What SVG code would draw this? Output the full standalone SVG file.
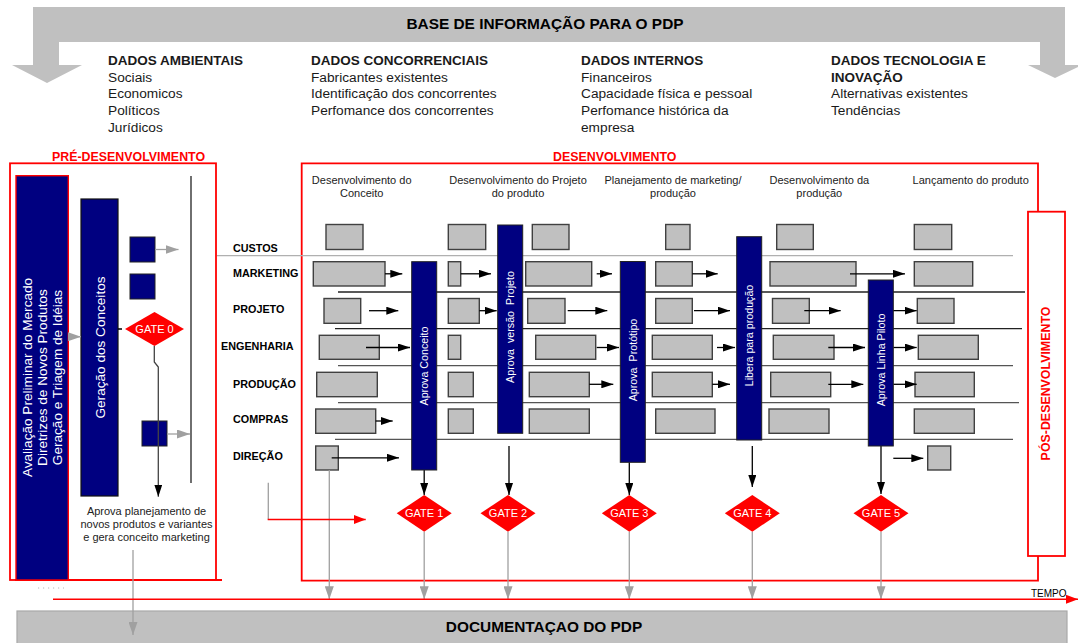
<svg xmlns="http://www.w3.org/2000/svg" width="1078" height="643" viewBox="0 0 1078 643">
  <defs>
    <style>
      text { font-family: "Liberation Sans", Arial, sans-serif; }
      .t14 { font-size: 13.7px; fill: #1a1a1a; }
      .b14 { font-size: 13.5px; font-weight: bold; fill: #1a1a1a; }
      .ttl { font-size: 15.4px; font-weight: bold; fill: #000; }
      .red { font-size: 12.4px; font-weight: bold; fill: #ff0000; }
      .ph { font-size: 11px; fill: #222; text-anchor: middle; }
      .lane { font-size: 10.8px; font-weight: bold; fill: #000; }
      .wt { fill: #fff; text-anchor: middle; }
      .gb { fill: #c0c0c0; stroke: #404040; stroke-width: 1.4; }
      .nv { fill: #000080; stroke: #222; stroke-width: 1; }
      .gate { fill: #ff0000; }
      .gt { font-size: 11px; fill: #fff; text-anchor: middle; }
      .bt { font-size: 10.7px; fill: #fff; text-anchor: middle; }
      .rbox { fill: none; stroke: #ff0000; stroke-width: 1.8; }
      .ab { stroke: #000; stroke-width: 1.3; fill: none; marker-end: url(#aB); }
      .ag { stroke: #a0a0a0; stroke-width: 1.3; fill: none; marker-end: url(#aG); }
      .lane-line { stroke: #222; stroke-width: 1.3; }
      .lane-line2 { stroke: #555; stroke-width: 1.3; }
    </style>
    <marker id="aB" viewBox="0 0 12 8" refX="12" refY="4" markerWidth="12" markerHeight="8" markerUnits="userSpaceOnUse" orient="auto">
      <path d="M0,0 L12,4 L0,8 z" fill="#000"/>
    </marker>
    <marker id="aG" viewBox="0 0 13 9" refX="13" refY="4.5" markerWidth="13" markerHeight="9" markerUnits="userSpaceOnUse" orient="auto">
      <path d="M0,0 L13,4.5 L0,9 z" fill="#a0a0a0"/>
    </marker>
    <marker id="aR" viewBox="0 0 12 9" refX="12" refY="4.5" markerWidth="12" markerHeight="9" markerUnits="userSpaceOnUse" orient="auto">
      <path d="M0,0 L12,4.5 L0,9 z" fill="#ff0000"/>
    </marker>
  </defs>

  <rect width="1078" height="643" fill="#fff"/>

  <!-- information base: wide bent arrow across the top -->
  <g id="base-info">
    <path d="M33,7 H1065 V65 H1082 L1055,78 L1028,65 H1040 V42 H59 V65 H82 L47,83 L12,65 H33 Z" fill="#c0c0c0"/>
    <text class="ttl" x="545" y="29" text-anchor="middle">BASE DE INFORMAÇÃO PARA O PDP</text>
  </g>

  <g id="dados-ambientais">
    <text class="b14" x="108" y="65">DADOS AMBIENTAIS</text>
    <text class="t14" x="108" y="81.7">Sociais</text>
    <text class="t14" x="108" y="98.3">Economicos</text>
    <text class="t14" x="108" y="115">Políticos</text>
    <text class="t14" x="108" y="131.7">Jurídicos</text>
  </g>
  <g id="dados-concorrenciais">
    <text class="b14" x="311" y="65">DADOS CONCORRENCIAIS</text>
    <text class="t14" x="311" y="81.7">Fabricantes existentes</text>
    <text class="t14" x="311" y="98.3">Identificação dos concorrentes</text>
    <text class="t14" x="311" y="115">Perfomance dos concorrentes</text>
  </g>
  <g id="dados-internos">
    <text class="b14" x="581" y="65">DADOS INTERNOS</text>
    <text class="t14" x="581" y="81.7">Financeiros</text>
    <text class="t14" x="581" y="98.3">Capacidade física e pessoal</text>
    <text class="t14" x="581" y="115">Perfomance histórica da</text>
    <text class="t14" x="581" y="131.7">empresa</text>
  </g>
  <g id="dados-tecnologia">
    <text class="b14" x="831" y="65">DADOS TECNOLOGIA E</text>
    <text class="b14" x="831" y="81.7">INOVAÇÃO</text>
    <text class="t14" x="831" y="98.3">Alternativas existentes</text>
    <text class="t14" x="831" y="115">Tendências</text>
  </g>

  <!-- documentation band at the bottom -->
  <g id="documentacao">
    <rect x="17" y="611" width="1050" height="40" fill="#c0c0c0" stroke="#a8a8a8" stroke-width="1.2"/>
    <text class="ttl" x="544" y="632" text-anchor="middle">DOCUMENTAÇAO DO PDP</text>
  </g>

  <!-- pre-development frame -->
  <g id="pre-desenvolvimento">
    <text class="red" x="52" y="161">PRÉ-DESENVOLVIMENTO</text>
    <rect class="rbox" x="10" y="163.3" width="206" height="416.7"/>
    <line x1="15" y1="580" x2="222" y2="580" stroke="#ff0000" stroke-width="1.8"/>
    <line x1="191" y1="176" x2="191" y2="483" stroke="#333" stroke-width="1.4"/>
  </g>

  <g id="avaliacao-preliminar">
    <rect x="16" y="175.7" width="52.3" height="404.3" fill="#000080" stroke="#ff0000" stroke-width="1.4"/>
    <g transform="translate(0,377.5) rotate(-90)" font-size="13.6">
      <text class="wt" x="0" y="32">Avaliação Preliminar do Mercado</text>
      <text class="wt" x="0" y="47">Diretrizes de Novos Produtos</text>
      <text class="wt" x="0" y="62">Geração e Triagem de Idéias</text>
    </g>
  </g>

  <g id="geracao-conceitos">
    <rect x="81" y="199" width="37" height="297" fill="#000080" stroke="#111" stroke-width="1.2"/>
    <text class="wt" font-size="13.6" transform="translate(105,347.5) rotate(-90)">Geração dos Conceitos</text>
  </g>

  <g id="conceito-a"><rect x="130" y="237" width="25" height="25" class="nv"/></g>
  <g id="conceito-b"><rect x="130" y="274" width="25" height="25" class="nv"/></g>

  <g id="gate-0">
    <polygon class="gate" points="154.5,312 184,329 154.5,346 125,329"/>
    <text class="gt" font-size="12" x="154.5" y="333.3">GATE 0</text>
  </g>

  <g id="conceito-aprovado"><rect x="142" y="421" width="25" height="25" class="nv"/></g>

  <g id="nota-aprovacao">
    <text class="ph" x="146.5" y="514.5">Aprova planejamento de</text>
    <text class="ph" x="146.5" y="527.8">novos produtos e variantes</text>
    <text class="ph" x="146.5" y="541">e gera conceito marketing</text>
  </g>

  <!-- development frame and post-development box -->
  <g id="desenvolvimento">
    <text class="red" x="553" y="161">DESENVOLVIMENTO</text>
    <path class="rbox" d="M1038,211.7 V163.3 H301.7 V580.7 H1038 V556"/>
  </g>

  <g id="pos-desenvolvimento">
    <rect x="1028" y="211.7" width="37" height="344.3" fill="#fff" stroke="#ff0000" stroke-width="1.8"/>
    <text class="red" text-anchor="middle" transform="translate(1050,383.5) rotate(-90)">PÓS-DESENVOLVIMENTO</text>
  </g>

  <!-- phase headings -->
  <g id="fases">
    <text class="ph" x="361.7" y="184">Desenvolvimento do</text>
    <text class="ph" x="361.7" y="197.3">Conceito</text>
    <text class="ph" x="518" y="184">Desenvolvimento do Projeto</text>
    <text class="ph" x="518" y="197.3">do produto</text>
    <text class="ph" x="673" y="184">Planejamento de marketing/</text>
    <text class="ph" x="673" y="197.3">produção</text>
    <text class="ph" x="819.3" y="184">Desenvolvimento da</text>
    <text class="ph" x="819.3" y="197.3">produção</text>
    <text class="ph" x="970.7" y="184">Lançamento do produto</text>
  </g>

  <!-- swimlanes -->
  <g id="raias">
    <text class="lane" x="233" y="251.7">CUSTOS</text>
    <text class="lane" x="233" y="276.7">MARKETING</text>
    <text class="lane" x="233" y="313">PROJETO</text>
    <text class="lane" x="221" y="350">ENGENHARIA</text>
    <text class="lane" x="233" y="387.7">PRODUÇÃO</text>
    <text class="lane" x="233" y="423">COMPRAS</text>
    <text class="lane" x="233" y="460">DIREÇÃO</text>
    <line x1="217" y1="255.7" x2="1013" y2="255.7" stroke="#b0b0b0" stroke-width="1.3"/>
    <line class="lane-line" x1="338" y1="292" x2="1025" y2="292"/>
    <line class="lane-line" x1="335" y1="328.7" x2="1022" y2="328.7"/>
    <line class="lane-line2" x1="338" y1="365.7" x2="1013" y2="365.7"/>
    <line class="lane-line2" x1="338" y1="402.7" x2="1019" y2="402.7"/>
    <line class="lane-line2" x1="335" y1="439.3" x2="1013" y2="439.3"/>
  </g>

  <!-- lane activities -->
  <g id="custos">
    <rect class="gb" x="326" y="224.5" width="37" height="25"/>
    <rect class="gb" x="448.3" y="224.5" width="37.4" height="25"/>
    <rect class="gb" x="532.3" y="224.5" width="36.7" height="25"/>
    <rect class="gb" x="665.7" y="224.5" width="24.3" height="25"/>
    <rect class="gb" x="776.7" y="224.5" width="36.6" height="25"/>
    <rect class="gb" x="914.3" y="224.5" width="37.4" height="25"/>
  </g>
  <g id="marketing">
    <rect class="gb" x="313.3" y="261.7" width="71.7" height="24.3"/>
    <rect class="gb" x="448.3" y="261.7" width="12.4" height="24.3"/>
    <rect class="gb" x="525.7" y="261.7" width="66" height="24.3"/>
    <rect class="gb" x="655.7" y="261.7" width="36.6" height="24.3"/>
    <rect class="gb" x="770" y="261.7" width="86" height="24.3"/>
    <rect class="gb" x="914.3" y="261.7" width="58.4" height="24.3"/>
  </g>
  <g id="projeto">
    <rect class="gb" x="324" y="298.5" width="36.7" height="24.8"/>
    <rect class="gb" x="448.3" y="298.5" width="31" height="24.8"/>
    <rect class="gb" x="527.7" y="298.5" width="37.3" height="24.8"/>
    <rect class="gb" x="655.7" y="298.5" width="36.6" height="24.8"/>
    <rect class="gb" x="772.5" y="298.5" width="36.8" height="24.8"/>
    <rect class="gb" x="917.3" y="298.5" width="36.7" height="24.8"/>
  </g>
  <g id="engenharia">
    <rect class="gb" x="319.3" y="335.3" width="60" height="24"/>
    <rect class="gb" x="448.3" y="335.3" width="12.4" height="24"/>
    <rect class="gb" x="535.7" y="335.3" width="60" height="24"/>
    <rect class="gb" x="652.3" y="335.3" width="60" height="24"/>
    <rect class="gb" x="773.3" y="335.3" width="60.7" height="24"/>
    <rect class="gb" x="918.3" y="335.3" width="60" height="24"/>
  </g>
  <g id="producao">
    <rect class="gb" x="316.7" y="372.3" width="60.6" height="24.4"/>
    <rect class="gb" x="448.3" y="372.3" width="25" height="24.4"/>
    <rect class="gb" x="529.3" y="372.3" width="60" height="24.4"/>
    <rect class="gb" x="652.3" y="372.3" width="60" height="24.4"/>
    <rect class="gb" x="770.7" y="372.3" width="60" height="24.4"/>
    <rect class="gb" x="915" y="372.3" width="59.3" height="24.4"/>
  </g>
  <g id="compras">
    <rect class="gb" x="315.7" y="409" width="60" height="24.3"/>
    <rect class="gb" x="448.3" y="409" width="25" height="24.3"/>
    <rect class="gb" x="529.3" y="409" width="60" height="24.3"/>
    <rect class="gb" x="655.7" y="409" width="59.3" height="24.3"/>
    <rect class="gb" x="769" y="409" width="60" height="24.3"/>
    <rect class="gb" x="914.3" y="409" width="60" height="24.3"/>
  </g>
  <g id="direcao">
    <rect class="gb" x="315.7" y="446" width="22.6" height="24"/>
    <rect class="gb" x="927.7" y="446" width="23" height="24"/>
  </g>

  <!-- connectors -->
  <g id="conectores">
    <!-- pre-development -->
    <line class="ag" x1="68.5" y1="336.7" x2="81" y2="336.7"/>
    <line class="ag" x1="155" y1="249.5" x2="178.5" y2="249.5"/>
    <line x1="118" y1="329" x2="122" y2="329" stroke="#000" stroke-width="1.5"/>
    <path d="M154.3,346 V362 L158.3,367 V496.7" stroke="#444" stroke-width="1.3" fill="none" marker-end="url(#aB)"/>
    <line class="ag" x1="167" y1="434" x2="190" y2="434"/>
    <line class="ag" x1="133" y1="550" x2="133" y2="635"/>
    <line x1="38" y1="588" x2="64" y2="588" stroke="#b8b8b8" stroke-width="1" stroke-dasharray="1.2 3.8"/>

    <!-- marketing -->
    <line class="ab" x1="385" y1="273.8" x2="402.3" y2="273.8"/>
    <line class="ab" x1="460.7" y1="273.8" x2="491" y2="273.8"/>
    <line class="ab" x1="596.7" y1="273.8" x2="612" y2="273.8"/>
    <line class="ab" x1="692.3" y1="273.8" x2="717.7" y2="273.8"/>
    <line class="ab" x1="850" y1="273.8" x2="905" y2="273.8"/>
    <!-- projeto -->
    <line class="ab" x1="369" y1="310.7" x2="398.3" y2="310.7"/>
    <line class="ab" x1="479.3" y1="310.7" x2="496.7" y2="310.7"/>
    <line class="ab" x1="567.7" y1="310.7" x2="607.3" y2="310.7"/>
    <line class="ab" x1="694" y1="310.7" x2="730" y2="310.7"/>
    <line class="ab" x1="804.3" y1="310.7" x2="840.7" y2="310.7"/>
    <line class="ab" x1="878.3" y1="310.7" x2="916.7" y2="310.7"/>
    <!-- engenharia -->
    <line class="ab" x1="366" y1="347.5" x2="410" y2="347.5"/>
    <line class="ab" x1="596.7" y1="347.5" x2="619" y2="347.5"/>
    <line class="ab" x1="717" y1="347.5" x2="735" y2="347.5"/>
    <line class="ab" x1="828.3" y1="347.5" x2="865" y2="347.5"/>
    <line class="ab" x1="893.3" y1="347.5" x2="916.7" y2="347.5"/>
    <!-- producao -->
    <line class="ab" x1="589.3" y1="384.3" x2="613.3" y2="384.3"/>
    <line class="ab" x1="712.3" y1="384.3" x2="730" y2="384.3"/>
    <line class="ab" x1="828.3" y1="384.3" x2="863.3" y2="384.3"/>
    <line class="ab" x1="893.3" y1="384.3" x2="916.7" y2="384.3"/>
    <!-- compras -->
    <line class="ab" x1="375.7" y1="421" x2="392.7" y2="421"/>
    <!-- direcao -->
    <line class="ab" x1="331.7" y1="457.8" x2="399" y2="457.8"/>
    <line class="ab" x1="893.3" y1="458.3" x2="923.3" y2="458.3"/>

    <!-- decisions down to the gates -->
    <line class="ab" x1="424.2" y1="470" x2="424.2" y2="495"/>
    <line class="ab" x1="509" y1="446" x2="509" y2="495"/>
    <line class="ab" x1="629.3" y1="462.3" x2="629.3" y2="495"/>
    <line class="ab" x1="752.3" y1="446" x2="752.3" y2="487"/>
    <line class="ab" x1="881" y1="446" x2="881" y2="494"/>

    <!-- gates to the time line -->
    <line class="ag" x1="329.3" y1="470" x2="329.3" y2="599.3"/>
    <line class="ag" x1="424.2" y1="531.7" x2="424.2" y2="599.3"/>
    <line class="ag" x1="508" y1="531.7" x2="508" y2="599.3"/>
    <line class="ag" x1="629.3" y1="531.7" x2="629.3" y2="599.3"/>
    <line class="ag" x1="752.3" y1="531.7" x2="752.3" y2="599.3"/>
    <line class="ag" x1="881" y1="531.7" x2="881" y2="599.3"/>

    <!-- hand-off from pre-development -->
    <line x1="268.3" y1="482.7" x2="268.3" y2="519.5" stroke="#a0a0a0" stroke-width="1.3"/>
    <line x1="267.7" y1="519.5" x2="365.7" y2="519.5" stroke="#ff0000" stroke-width="1.3" marker-end="url(#aR)"/>

    <!-- time axis -->
    <line x1="53" y1="599.3" x2="1078" y2="599.3" stroke="#ff0000" stroke-width="1.5" marker-end="url(#aR)"/>
    <text x="1031" y="596.5" font-size="10" fill="#000">TEMPO</text>
  </g>

  <!-- decision bars -->
  <g id="aprova-conceito">
    <rect class="nv" x="411.7" y="261.7" width="25" height="208.3"/>
    <text class="bt" transform="translate(428.2,366) rotate(-90)">Aprova Conceito</text>
  </g>
  <g id="aprova-versao-projeto">
    <rect class="nv" x="497.7" y="225" width="25" height="208.3"/>
    <text class="bt" word-spacing="3" transform="translate(514.2,327) rotate(-90)">Aprova versão Projeto</text>
  </g>
  <g id="aprova-prototipo">
    <rect class="nv" x="620.3" y="261.5" width="25" height="200.8"/>
    <text class="bt" word-spacing="3" transform="translate(636.8,360) rotate(-90)">Aprova Protótipo</text>
  </g>
  <g id="libera-producao">
    <rect class="nv" x="736.7" y="236.7" width="25" height="203.3"/>
    <text class="bt" transform="translate(753.2,335.5) rotate(-90)">Libera para produção</text>
  </g>
  <g id="aprova-linha-piloto">
    <rect class="nv" x="868.3" y="280" width="25" height="166"/>
    <text class="bt" transform="translate(884.8,360) rotate(-90)">Aprova Linha Piloto</text>
  </g>

  <!-- gates -->
  <g id="gate-1">
    <polygon class="gate" points="424.2,495 451.7,513.3 424.2,531.7 396.7,513.3"/>
    <text class="gt" x="424.2" y="517.3">GATE 1</text>
  </g>
  <g id="gate-2">
    <polygon class="gate" points="508,495 535.5,513.3 508,531.7 480.5,513.3"/>
    <text class="gt" x="508" y="517.3">GATE 2</text>
  </g>
  <g id="gate-3">
    <polygon class="gate" points="629.3,495 656.8,513.3 629.3,531.7 601.8,513.3"/>
    <text class="gt" x="629.3" y="517.3">GATE 3</text>
  </g>
  <g id="gate-4">
    <polygon class="gate" points="752.3,495 779.8,513.3 752.3,531.7 724.8,513.3"/>
    <text class="gt" x="752.3" y="517.3">GATE 4</text>
  </g>
  <g id="gate-5">
    <polygon class="gate" points="881,495 908.5,513.3 881,531.7 853.5,513.3"/>
    <text class="gt" x="881" y="517.3">GATE 5</text>
  </g>
</svg>
